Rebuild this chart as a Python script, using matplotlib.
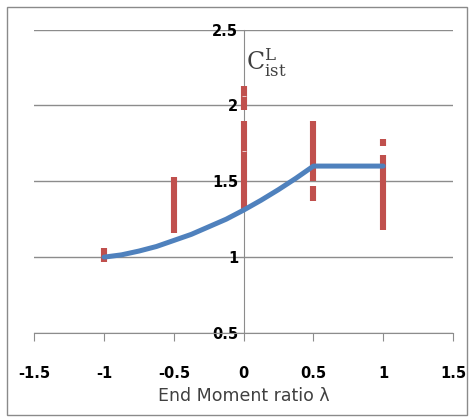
import matplotlib.pyplot as plt
from matplotlib.patches import Rectangle

plt.rcParams['mathtext.fontset'] = 'dejavuserif'

# blue design curve
lam = [-1, -0.875, -0.75, -0.625, -0.5, -0.375, -0.25, -0.125, 0, 0.125, 0.25, 0.375, 0.5, 1]
c_ist = [1.0, 1.015, 1.04, 1.07, 1.11, 1.15, 1.20, 1.25, 1.31, 1.375, 1.445, 1.52, 1.60, 1.60]

# red scatter ranges (stacked dash markers)
seg_x = [-1, -0.5, 0, 0, 0.5, 0.5, 1, 1]
seg_lo = [0.97, 1.16, 1.32, 1.97, 1.37, 1.50, 1.18, 1.73]
seg_hi = [1.06, 1.53, 1.90, 2.13, 1.47, 1.90, 1.67, 1.78]

xticks = [-1.5, -1, -0.5, 0, 0.5, 1, 1.5]
yticks = [0.5, 1, 1.5, 2, 2.5]

fig = plt.figure(figsize=(4.7, 4.19), dpi=100)
fig.patches.append(Rectangle((7/470, 4/419), 460/470, 408/419, transform=fig.transFigure,
                             fill=False, edgecolor='#8a8a8a', linewidth=1))
ax = fig.add_axes([34.3/470, 1-333/419, (453-34.3)/470, (333-29.5)/419])

ax.vlines(seg_x, seg_lo, seg_hi, colors='#C0504D', linewidth=4.4, zorder=3)
# faint white seams between stacked markers
ax.hlines([2.06, 1.70], -0.014, 0.014, colors='#f4dede', linewidth=0.6, zorder=3.5)
ax.plot(lam, c_ist, color='#4F81BD', linewidth=3.6, solid_capstyle='round',
        solid_joinstyle='round', zorder=4)

ax.set_xlim(-1.5, 1.5)
ax.set_ylim(0.5, 2.5)
ax.set_xticks(xticks)
ax.set_yticks(yticks)
ax.set_xticklabels(['-1.5', '-1', '-0.5', '0', '0.5', '1', '1.5'])
ax.set_yticklabels(['0.5', '1', '1.5', '2', '2.5'])

ax.grid(axis='y', color='#8c8c8c', linewidth=1)
ax.set_axisbelow(True)
for s in ['top', 'right']:
    ax.spines[s].set_visible(False)
ax.spines['left'].set_position(('data', 0))
ax.spines['left'].set_color('#8c8c8c')
ax.spines['bottom'].set_color('#8c8c8c')

ax.tick_params(axis='y', length=0, pad=4)
ax.tick_params(axis='x', direction='out', length=6, color='#8c8c8c', pad=18)
for lab in ax.get_xticklabels() + ax.get_yticklabels():
    lab.set_fontweight('bold')
    lab.set_fontsize(10.5)
    lab.set_fontfamily('DejaVu Sans Condensed')

ax.set_xlabel('End Moment ratio λ', fontsize=12.5, color='#404040', labelpad=4,
              family='DejaVu Sans Condensed')
ax.text(0.015, 2.28, r'$\mathrm{C}_{\mathrm{ist}}^{\mathrm{L}}$', fontsize=17,
        color='#404040', ha='left', va='center')

fig.savefig('out.png', dpi=100)
